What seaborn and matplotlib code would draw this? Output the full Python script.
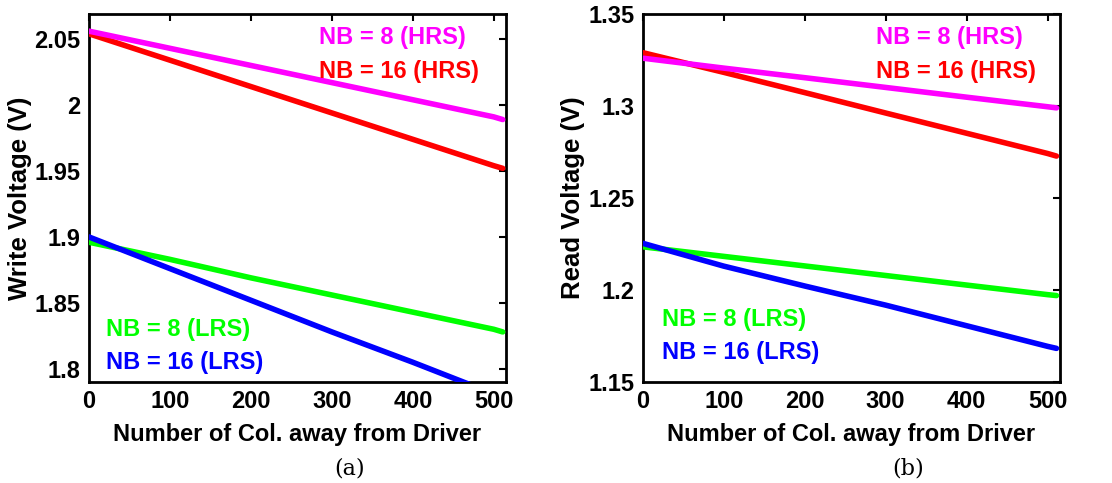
import matplotlib
matplotlib.use("Agg")
import matplotlib.pyplot as plt
import seaborn as sns
import pandas as pd

# column index
cols = [0, 100, 200, 300, 400, 500, 511]

# (a) write voltage
write_hrs8 = [2.056, 2.043, 2.030, 2.017, 2.004, 1.991, 1.989]
write_hrs16 = [2.054, 2.034, 2.014, 1.994, 1.974, 1.954, 1.952]
write_lrs8 = [1.896, 1.883, 1.869, 1.856, 1.843, 1.830, 1.828]
write_lrs16 = [1.900, 1.876, 1.852, 1.828, 1.805, 1.781, 1.778]

# (b) read voltage
read_hrs8 = [1.326, 1.3206, 1.3154, 1.3101, 1.3048, 1.2996, 1.299]
read_hrs16 = [1.329, 1.3183, 1.3073, 1.2962, 1.2852, 1.2742, 1.2728]
read_lrs8 = [1.2235, 1.2183, 1.2131, 1.2079, 1.2027, 1.1975, 1.197]
read_lrs16 = [1.2254, 1.213, 1.2022, 1.1918, 1.1806, 1.1694, 1.1683]

series_names = ["NB = 16 (HRS)", "NB = 8 (HRS)", "NB = 8 (LRS)", "NB = 16 (LRS)"]
colors = {"NB = 8 (HRS)": "#ff00ff", "NB = 16 (HRS)": "#ff0000",
          "NB = 8 (LRS)": "#00ff00", "NB = 16 (LRS)": "#0000ff"}

sns.set_style("white")
plt.rcParams["font.family"] = ["Liberation Sans", "DejaVu Sans"]
plt.rcParams["font.weight"] = "bold"
plt.rcParams["text.color"] = "black"
plt.rcParams["axes.labelcolor"] = "black"
plt.rcParams["xtick.color"] = "black"
plt.rcParams["ytick.color"] = "black"


def long_df(hrs16, hrs8, lrs8, lrs16):
    rows = []
    for name, vals in zip(series_names, [hrs16, hrs8, lrs8, lrs16]):
        for c, v in zip(cols, vals):
            rows.append({"col": c, "v": v, "series": name})
    return pd.DataFrame(rows)


def panel(ax, df, ylim, yticks, ylabel, hrs_xy, lrs_xy, tag, tag_x):
    sns.lineplot(data=df, x="col", y="v", hue="series", hue_order=series_names,
                 palette=colors, linewidth=4, legend=False, ax=ax, zorder=3)
    ax.set_xlim(0, 515)
    ax.set_ylim(*ylim)
    ax.set_xticks([0, 100, 200, 300, 400, 500])
    ax.set_yticks(yticks)
    ax.set_yticklabels([f"{t:g}" for t in yticks])
    ax.tick_params(direction="in", length=5, width=1.5, labelsize=17,
                   top=True, right=True, pad=6, colors="black")
    for lab in ax.get_xticklabels() + ax.get_yticklabels():
        lab.set_fontweight("bold")
    for s in ax.spines.values():
        s.set_linewidth(2)
        s.set_color("black")
    ax.set_xlabel("Number of Col. away from Driver", fontsize=17,
                  fontweight="bold", labelpad=7)
    ax.set_ylabel(ylabel, fontsize=18.5, fontweight="bold", labelpad=2)
    kw = dict(transform=ax.transAxes, fontsize=17, fontweight="bold",
              ha="left", va="center")
    ax.text(hrs_xy[0], hrs_xy[1], "NB = 8 (HRS)", color=colors["NB = 8 (HRS)"], **kw)
    ax.text(hrs_xy[0], hrs_xy[1] - 0.09, "NB = 16 (HRS)", color=colors["NB = 16 (HRS)"], **kw)
    ax.text(lrs_xy[0], lrs_xy[1], "NB = 8 (LRS)", color=colors["NB = 8 (LRS)"], **kw)
    ax.text(lrs_xy[0], lrs_xy[1] - 0.09, "NB = 16 (LRS)", color=colors["NB = 16 (LRS)"], **kw)
    ax.text(tag_x, -0.235, tag, transform=ax.transAxes, fontsize=16,
            family="DejaVu Serif", fontweight="normal", ha="center", va="center")


fig = plt.figure(figsize=(11.12, 4.83), dpi=100)
ax1 = fig.add_axes([0.080, 0.209, 0.375, 0.762])
ax2 = fig.add_axes([0.578, 0.209, 0.375, 0.762])

panel(ax1, long_df(write_hrs16, write_hrs8, write_lrs8, write_lrs16),
      (1.79, 2.069), [1.8, 1.85, 1.9, 1.95, 2.0, 2.05], "Write Voltage (V)",
      (0.552, 0.935), (0.04, 0.143), "(a)", 0.626)
panel(ax2, long_df(read_hrs16, read_hrs8, read_lrs8, read_lrs16),
      (1.15, 1.35), [1.15, 1.2, 1.25, 1.3, 1.35], "Read Voltage (V)",
      (0.56, 0.935), (0.045, 0.17), "(b)", 0.636)

fig.savefig("out.png", dpi=100)
